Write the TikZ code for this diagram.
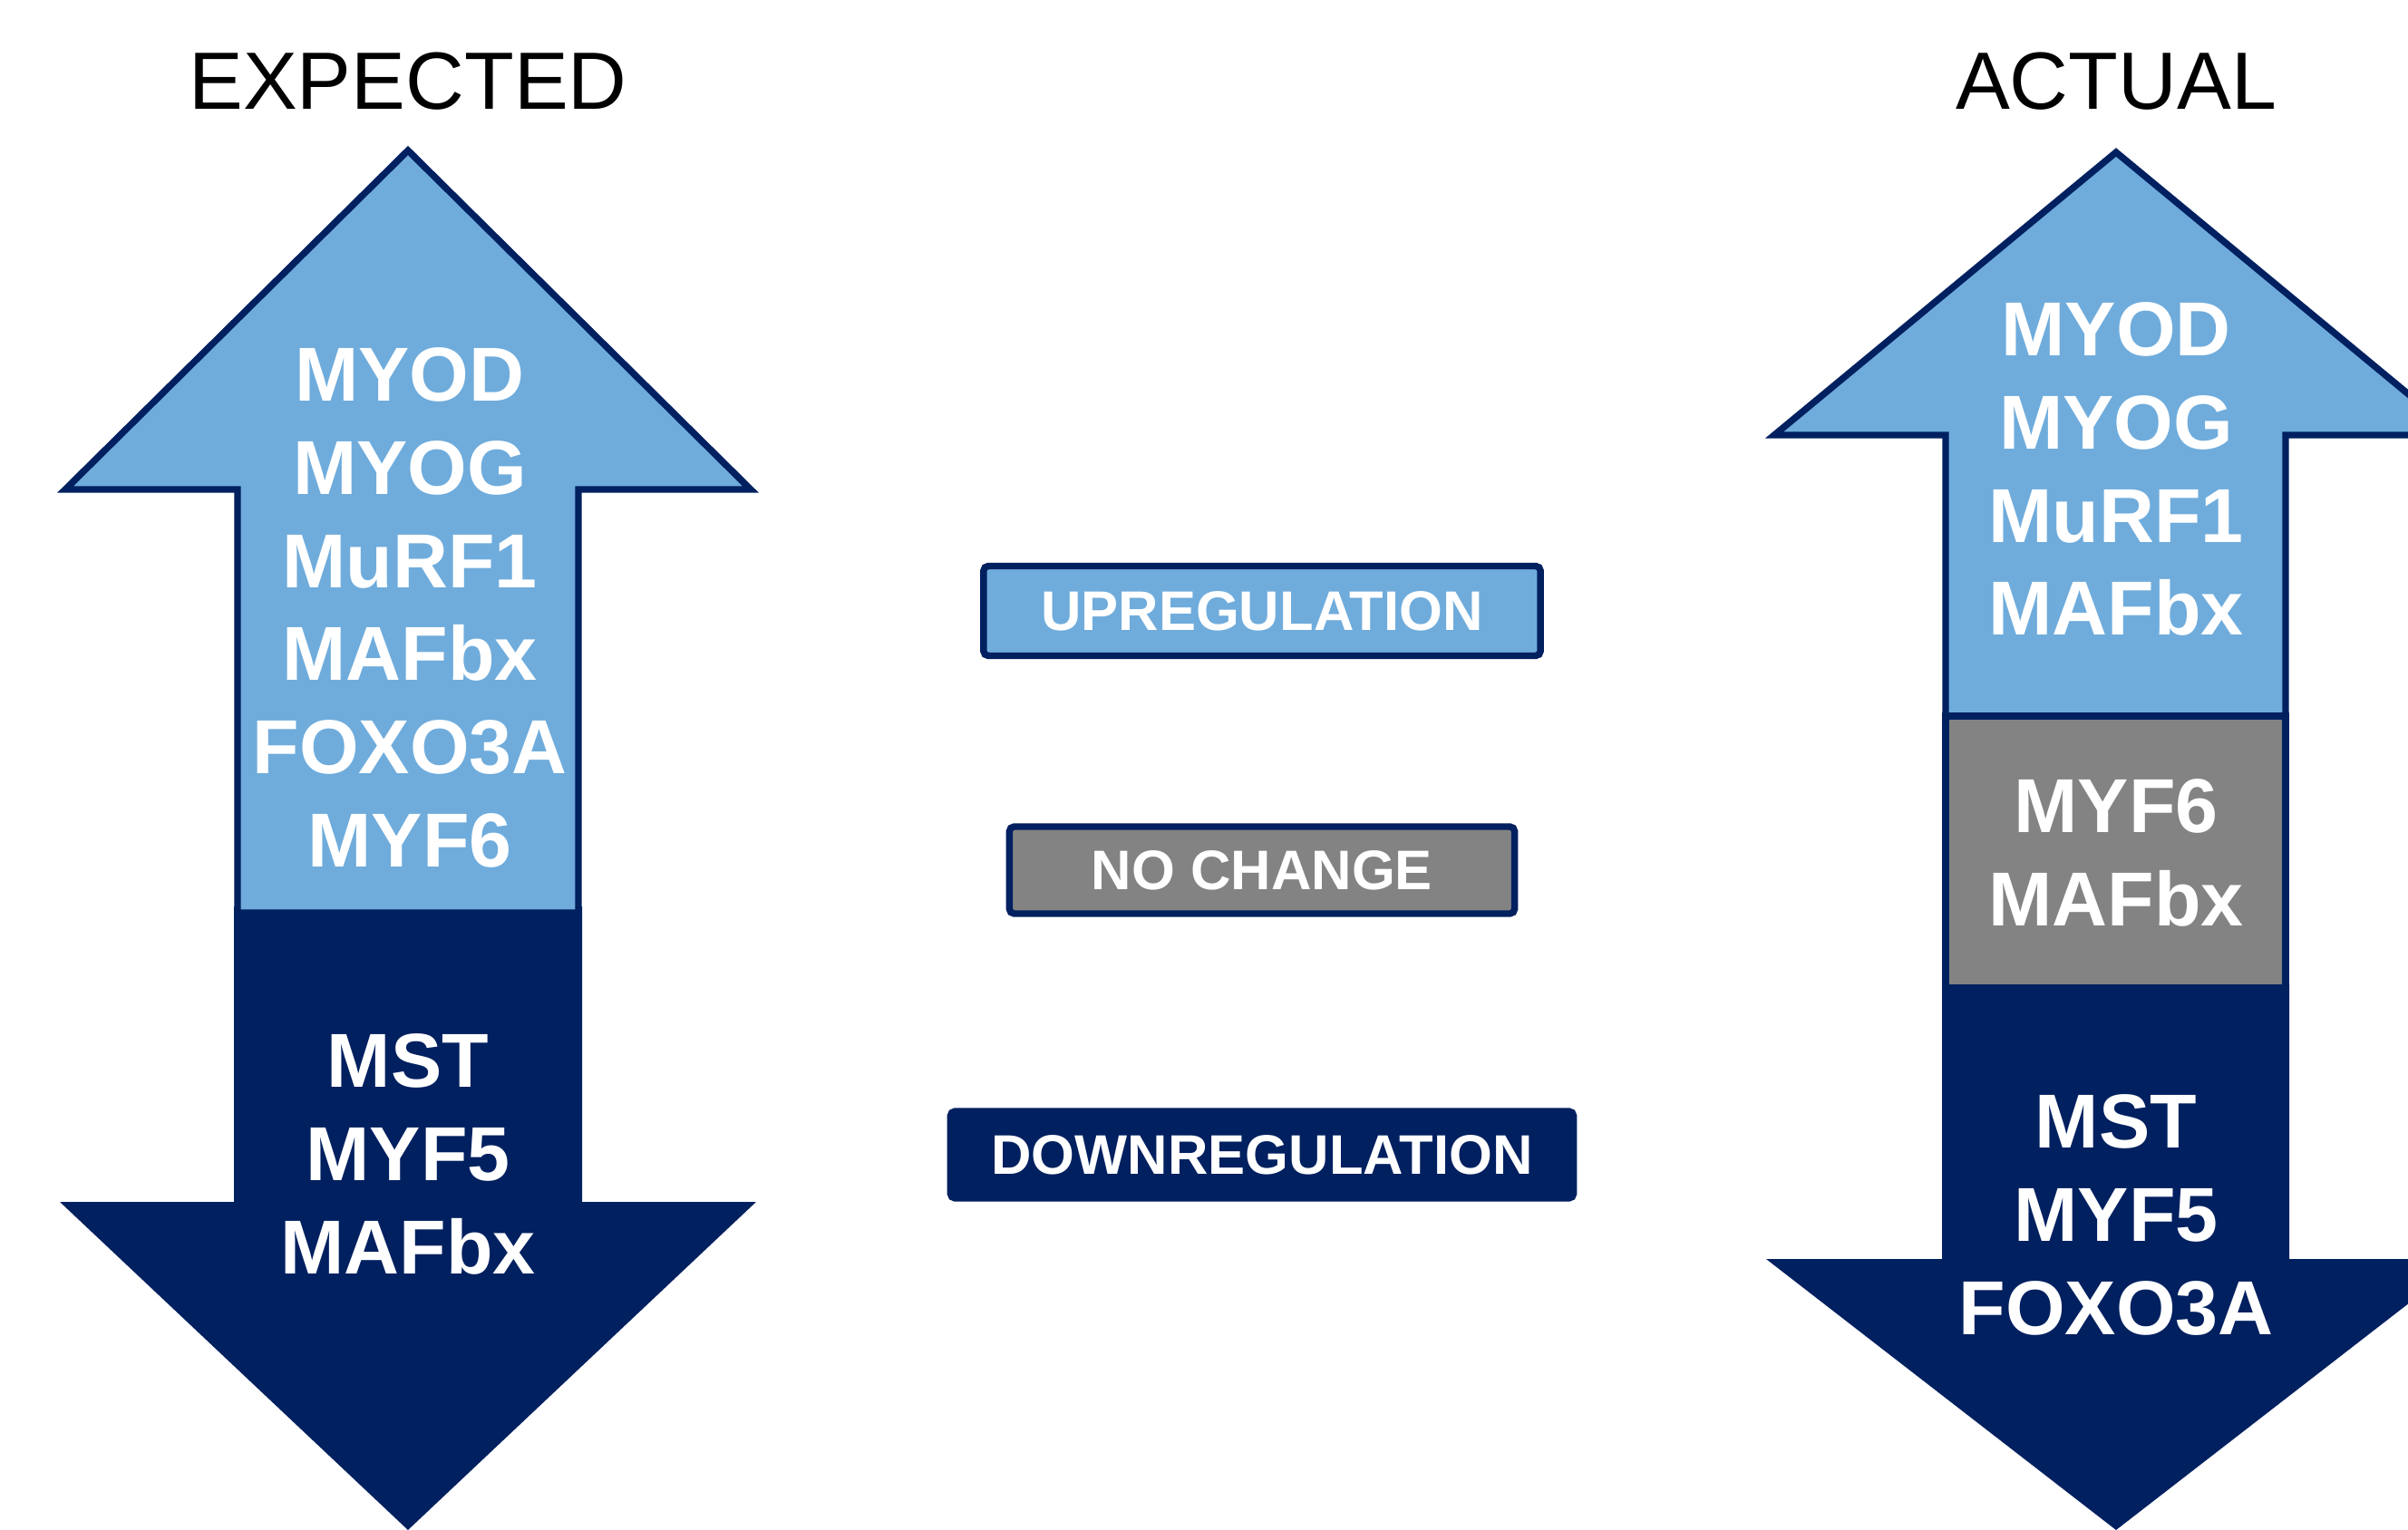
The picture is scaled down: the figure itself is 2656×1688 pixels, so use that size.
\documentclass[tikz,border=0pt]{standalone}
\usepackage{fontspec}
\setmainfont{Liberation Sans}
\definecolor{upblue}{HTML}{6FACDC}
\definecolor{navy}{HTML}{002060}
\definecolor{samegray}{HTML}{838383}

\begin{document}
\begin{tikzpicture}[x=0.01cm,y=-0.01cm,
  gene/.style={text=white,font=\bfseries\fontsize{24}{29.2}\selectfont,align=center,inner sep=0pt,anchor=north},
  heading/.style={font=\fontsize{25.5}{30}\selectfont,anchor=base},
  legend/.style={draw=navy,line width=2.1pt,rounded corners=1.5pt,text=white,font=\bfseries\fontsize{17.5}{21}\selectfont,inner sep=0pt},
  uparrow/.style={fill=upblue,draw=navy,line width=2.1pt,line join=miter}]
  \useasboundingbox (0,0) rectangle (2656,1688);
  \clip (0,0) rectangle (2656,1688);

  \fill[navy] (258,1000) -- (258,1326) -- (66,1326) -- (450,1688) -- (834,1326) -- (642,1326) -- (642,1000) -- cycle;
  \draw[uparrow] (262,1007) -- (262,540) -- (72,540) -- (450,166) -- (828,540) -- (638,540) -- (638,1007) -- cycle;

  \fill[navy] (2142,1085) -- (2142,1389) -- (1948,1389) -- (2334,1688) -- (2720,1389) -- (2525,1389) -- (2525,1085) -- cycle;
  \draw[uparrow] (2146,790) -- (2146,480) -- (1957,480) -- (2334,168) -- (2711,480) -- (2521,480) -- (2521,790) -- cycle;
  \draw[fill=samegray,draw=navy,line width=2.1pt] (2146,790) rectangle (2521,1090);

  \node[heading] (expTitle) at (450,121) {EXPECTED};
  \node[heading] (actTitle) at (2334,121) {ACTUAL};

  \node[gene] (expUp)   at (452,383)  {MYOD\\MYOG\\MuRF1\\MAFbx\\FOXO3A\\MYF6};
  \node[gene] (expDown) at (450,1140) {MST\\MYF5\\MAFbx};
  \node[gene] (actUp)   at (2334,333) {MYOD\\MYOG\\MuRF1\\MAFbx};
  \node[gene] (actSame) at (2334,859) {MYF6\\MAFbx};
  \node[gene] (actDown) at (2334,1207) {MST\\MYF5\\FOXO3A};

  \node[legend,fill=upblue,minimum width=6.14cm,minimum height=0.99cm] (legUp) at (1392,674) {UPREGULATION};
  \node[legend,fill=samegray,minimum width=5.57cm,minimum height=0.96cm] (legSame) at (1392,960) {NO CHANGE};
  \node[legend,fill=navy,minimum width=6.87cm,minimum height=0.96cm] (legDown) at (1392,1274) {DOWNREGULATION};
\end{tikzpicture}
\end{document}
